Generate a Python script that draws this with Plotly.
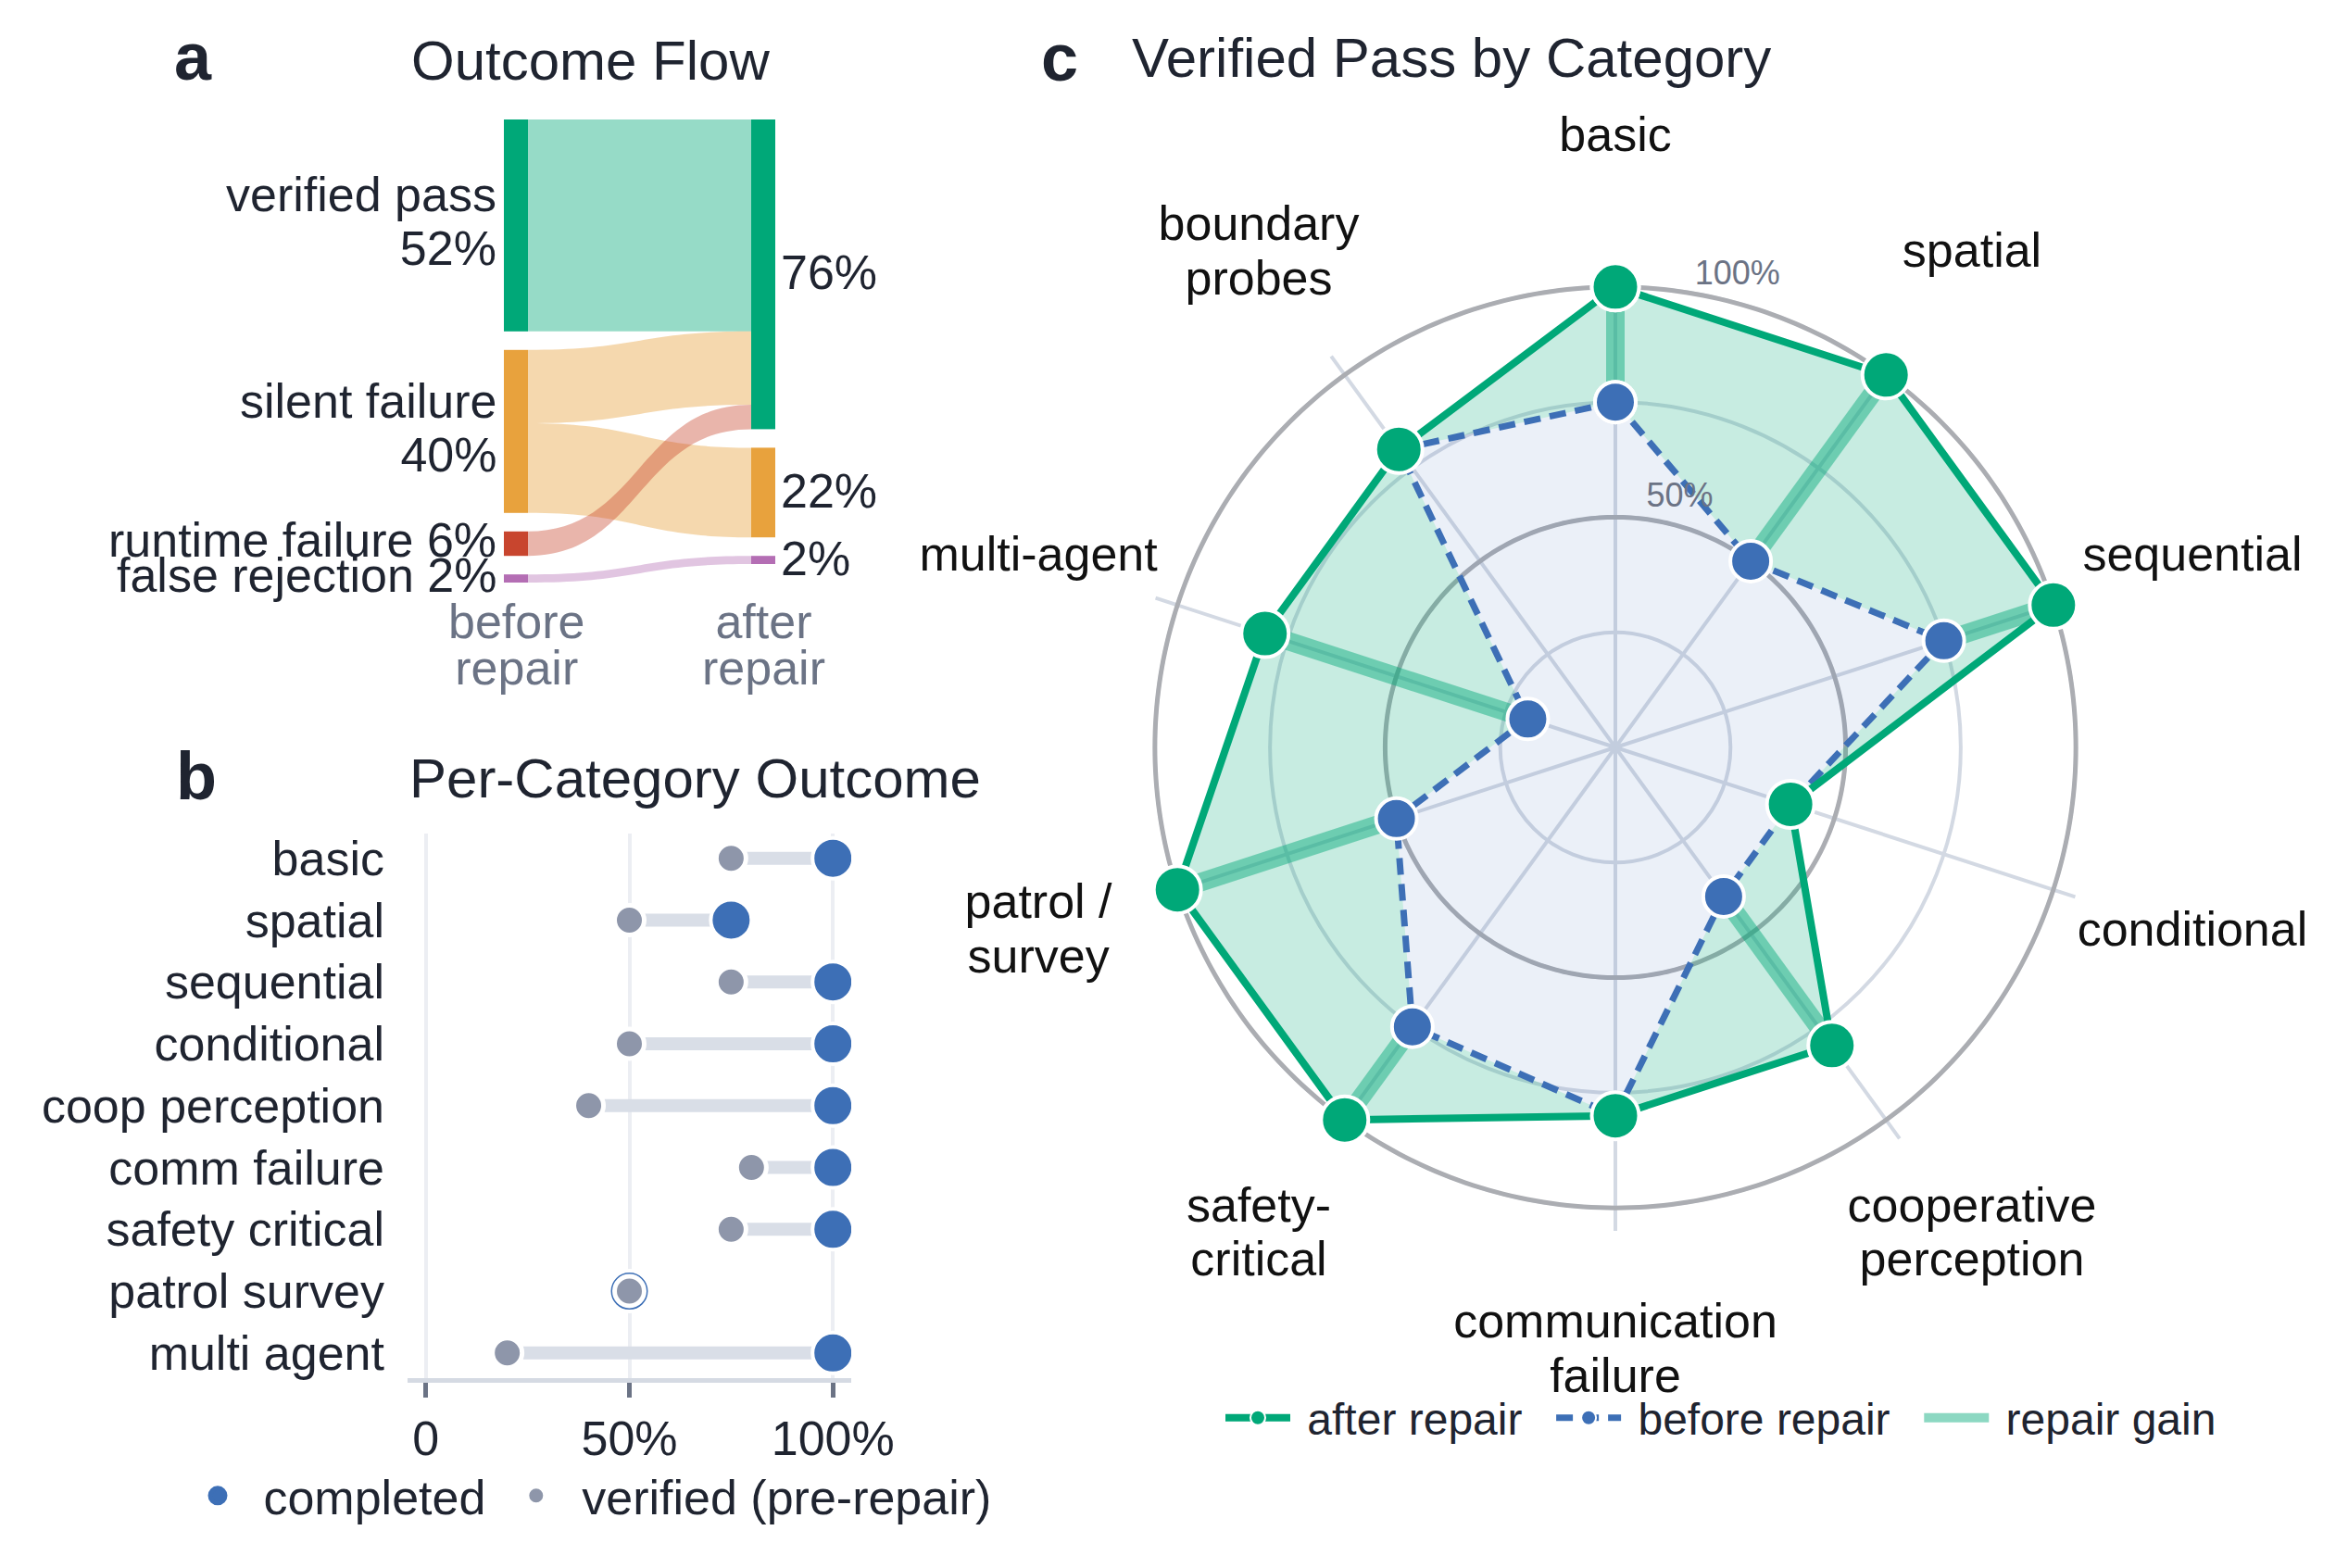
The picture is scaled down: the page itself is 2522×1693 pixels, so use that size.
import numpy as np
import plotly.graph_objects as go

W, H = 2522, 1693
BODY = 8                      # page margin the html adds round the figure
FW, FH = W - 2 * BODY, H - 2 * BODY
FONT = "Liberation Sans, Arial, Helvetica, sans-serif"
INK = "#1f2430"
MUTED = "#6b7385"
GREEN = "#00a878"
ORANGE = "#e8a23d"
RED = "#c8452e"
PURPLE = "#b46eb4"
BLUE = "#3d6fb6"
SLATE = "#8e96aa"
NB = "\u00a0"


def px(x):
    return (x - BODY) / FW


def py(y):
    return 1 - (y - BODY) / FH


def big(txt, size):
    # keep glyphs at `size` while the line pitch follows the smaller base font
    return "<br>".join(f"<span style='font-size:{size}px'>{t}</span>" for t in txt.split("<br>"))


# ---------------- data ----------------
# a: outcome flow (percent of tasks)
flow_before_names = ["verified pass", "silent failure", "runtime failure", "false rejection"]
flow_before_pct = [52, 40, 6, 2]
flow_after_names = ["verified pass", "silent failure", "false rejection"]
flow_after_pct = [76, 22, 2]
flow_src = [0, 1, 1, 2, 3]          # index into before nodes
flow_dst = [0, 0, 1, 0, 2]          # index into after nodes
flow_val = [52, 18, 22, 6, 2]

# b: per-category outcome
cat_b = ["basic", "spatial", "sequential", "conditional", "coop perception",
         "comm failure", "safety critical", "patrol survey", "multi agent"]
verified_b = [75, 50, 75, 50, 40, 80, 75, 50, 20]
completed_b = [100, 75, 100, 100, 100, 100, 100, 50, 100]

# c: verified pass by category
cat_c = ["basic", "spatial", "sequential", "conditional", "cooperative<br>perception",
         "communication<br>failure", "safety-<br>critical", "patrol /<br>survey",
         "multi-agent", "boundary<br>probes"]
before_c = [75, 50, 75, 40, 40, 80, 75, 50, 20, 80]
after_c = [100, 100, 100, 40, 80, 80, 100, 100, 80, 80]
radial_ticks = [50, 100]

fig = go.Figure()

# ---------------- a: sankey ----------------
SK_X0, SK_X1, SK_TOP, SK_BOT = 544, 837, 129, 629
sk_w, sk_h = SK_X1 - SK_X0, SK_BOT - SK_TOP
pad, thick = 20, 26
ky = min((sk_h - (len(c) - 1) * pad) / sum(c) for c in (flow_before_pct, flow_after_pct))


def centers(vals):
    out, y = [], 0.0
    for v in vals:
        out.append(y + v * ky / 2)
        y += v * ky + pad
    return out


cy_before = centers(flow_before_pct)
cy_after = centers(flow_after_pct)
before_cols = [GREEN, ORANGE, RED, PURPLE]
after_cols = [GREEN, ORANGE, PURPLE]
link_rgba = ["rgba(0,168,120,0.41)", "rgba(232,162,61,0.42)",
             "rgba(200,69,46,0.40)", "rgba(180,110,180,0.40)"]
nb = len(flow_before_pct)
xl = thick / 2 / sk_w

fig.add_trace(go.Sankey(
    domain=dict(x=[px(SK_X0), px(SK_X1)], y=[py(SK_BOT), py(SK_TOP)]),
    arrangement="fixed",
    node=dict(
        label=[""] * (nb + len(flow_after_pct)),
        color=before_cols + after_cols,
        line=dict(width=0),
        pad=pad, thickness=thick,
        x=[xl] * nb + [1 - xl] * len(flow_after_pct),
        y=[c / sk_h for c in cy_before + cy_after],
        hoverinfo="none",
    ),
    link=dict(
        source=flow_src,
        target=[nb + t for t in flow_dst],
        value=flow_val,
        color=[link_rgba[s] for s in flow_src],
        hoverinfo="none",
    ),
))

annotations = []
for name, v, c in zip(flow_before_names, flow_before_pct, cy_before):
    txt = f"{name}<br>{v}%" if v >= 10 else f"{name} {v}%"
    annotations.append(dict(x=px(SK_X0 - 6), y=py(SK_TOP + c - 4), text=big(txt, 52),
                            xanchor="right", yanchor="middle", align="right",
                            font=dict(size=44.6, color=INK)))
for v, c in zip(flow_after_pct, cy_after):
    annotations.append(dict(x=px(SK_X1 + 4), y=py(SK_TOP + c - 2), text=f"{v}%",
                            xanchor="left", yanchor="middle",
                            font=dict(size=52, color=INK)))
for txt, xc in [("before<br>repair", SK_X0 + thick / 2), ("after<br>repair", SK_X1 - thick / 2)]:
    annotations.append(dict(x=px(xc), y=py(696), text=big(txt, 52), xanchor="center",
                            yanchor="middle", font=dict(size=38.5, color=MUTED)))

# ---------------- b: dumbbell ----------------
cx, cy = [], []
for c, v0, v1 in zip(cat_b, verified_b, completed_b):
    cx += [v0, v1, None]
    cy += [c, c, None]
fig.add_trace(go.Scatter(x=cx, y=cy, mode="lines", line=dict(color="#d9dee7", width=14),
                         showlegend=False, hoverinfo="skip"))
fig.add_trace(go.Scatter(x=completed_b, y=cat_b, mode="markers", showlegend=False,
                         marker=dict(size=44, color=BLUE, line=dict(color="white", width=4))))
fig.add_trace(go.Scatter(x=verified_b, y=cat_b, mode="markers", showlegend=False,
                         marker=dict(size=32, color=SLATE, line=dict(color="white", width=5))))
# legend keys (legend symbols are size-capped, so style them separately)
fig.add_trace(go.Scatter(x=[None], y=[None], mode="markers", name=f"{NB}completed{NB}",
                         marker=dict(size=16, color=BLUE, line=dict(color=BLUE, width=5)),
                         legend="legend"))
fig.add_trace(go.Scatter(x=[None], y=[None], mode="markers", name=f"{NB}verified (pre-repair)",
                         marker=dict(size=12, color=SLATE, line=dict(color=SLATE, width=3)),
                         legend="legend"))

# ---------------- c: radar ----------------
n = len(cat_c)
ang = [i * 360 / n for i in range(n)]
ring = np.linspace(0, 360, 361)
for rv in radial_ticks:
    fig.add_trace(go.Scatterpolar(r=[rv] * len(ring), theta=ring, mode="lines",
                                  line=dict(color="#abadb2", width=5),
                                  showlegend=False, hoverinfo="skip"))
fig.add_trace(go.Scatterpolar(r=before_c + before_c[:1], theta=ang + ang[:1], mode="lines",
                              line=dict(width=0), fill="toself",
                              fillcolor="rgba(61,111,182,0.10)",
                              showlegend=False, hoverinfo="skip"))
fig.add_trace(go.Scatterpolar(r=after_c + after_c[:1], theta=ang + ang[:1], mode="lines",
                              line=dict(width=0), fill="tonext",
                              fillcolor="rgba(0,168,120,0.22)",
                              showlegend=False, hoverinfo="skip"))
gr, gt = [], []
for a, b0, b1 in zip(ang, before_c, after_c):
    if b1 > b0:
        gr += [b0, b1, None]
        gt += [a, a, None]
GAIN = "rgba(0,168,120,0.45)"
fig.add_trace(go.Scatterpolar(r=gr, theta=gt, mode="lines", showlegend=False,
                              line=dict(color=GAIN, width=20), hoverinfo="skip"))
fig.add_trace(go.Scatterpolar(r=before_c + before_c[:1], theta=ang + ang[:1],
                              mode="lines+markers", showlegend=False,
                              line=dict(color=BLUE, width=7, dash="18px,10px"),
                              marker=dict(size=44, color=BLUE, line=dict(color="white", width=4))))
fig.add_trace(go.Scatterpolar(r=after_c + after_c[:1], theta=ang + ang[:1],
                              mode="lines+markers", showlegend=False,
                              line=dict(color=GREEN, width=8),
                              marker=dict(size=51, color=GREEN, line=dict(color="white", width=4))))
for name, line, marker, rank in [
    ("after repair", dict(color=GREEN, width=8), dict(size=16, color=GREEN, line=dict(color="white", width=2)), 1),
    ("before repair", dict(color=BLUE, width=7, dash="18px,10px"), dict(size=16, color=BLUE, line=dict(color="white", width=2)), 2),
    ("repair gain", dict(color=GAIN, width=20), None, 3),
]:
    fig.add_trace(go.Scatterpolar(r=[None], theta=[None], name=f"{NB}{name}{NB}{NB}",
                                  mode="lines+markers" if marker else "lines",
                                  line=line, marker=marker, legend="legend2", legendrank=rank))

# labels live on a larger, invisible polar frame sharing the same centre
C_X, C_Y = 1744, 807                   # radar centre, picture px
R_AX = 522                             # radius of the radar frame (r = 105)
R100 = R_AX / 1.05
R_TXT = 720                            # radius of the label frame
fig.add_trace(go.Scatterpolar(r=[655 / R_TXT] * n, theta=ang, mode="text",
                              text=[big(t, 52) for t in cat_c],
                              textfont=dict(size=45, color="#111111"),
                              cliponaxis=False, showlegend=False, hoverinfo="skip",
                              subplot="polar2"))
fig.add_trace(go.Scatterpolar(r=[(R100 * v / 100 + 29) / R_TXT for v in radial_ticks],
                              theta=[14.5] * len(radial_ticks), mode="text",
                              text=[f"{v}%" for v in radial_ticks],
                              textfont=dict(size=36, color=MUTED),
                              cliponaxis=False, showlegend=False, hoverinfo="skip",
                              subplot="polar2"))

# ---------------- titles ----------------
for txt, x, y, size, bold in [
    ("a", 186, 61, 72, True), ("Outcome Flow", 442, 66, 60, False),
    ("b", 188, 838, 72, True), ("Per-Category Outcome", 440, 840, 60, False),
    ("c", 1122, 62, 72, True), ("Verified Pass by Category", 1220, 63, 60, False),
]:
    annotations.append(dict(x=px(x), y=py(y), text=f"<b>{txt}</b>" if bold else txt,
                            xanchor="left", yanchor="middle",
                            font=dict(size=size, color=INK)))
for a in annotations:
    a.update(xref="paper", yref="paper", showarrow=False)

hidden = dict(visible=False, showgrid=False, showline=False, showticklabels=False, ticks="")
fig.update_layout(
    width=FW, height=FH, margin=dict(l=0, r=0, t=0, b=0, autoexpand=False),
    paper_bgcolor="white", plot_bgcolor="white",
    font=dict(family=FONT, size=52, color=INK),
    annotations=annotations,
    xaxis=dict(domain=[px(440), px(919)], range=[-4.5, 104.5],
               tickvals=[0, 50, 100], ticktext=["0", "50%", "100%"],
               showgrid=True, gridcolor="#eceef3", gridwidth=4, zeroline=False,
               showline=True, linecolor="#d5dae3", linewidth=5,
               ticks="outside", ticklen=16, tickwidth=5, tickcolor=MUTED,
               tickfont=dict(size=52, color=INK)),
    yaxis=dict(domain=[py(1487.5), py(900)], type="category",
               categoryarray=cat_b, range=[8.4, -0.4], showgrid=False,
               showline=False, zeroline=False, ticks="", ticklabelstandoff=24,
               tickfont=dict(size=52, color=INK)),
    polar=dict(
        domain=dict(x=[px(C_X - R_AX), px(C_X + R_AX)], y=[py(C_Y + R_AX), py(C_Y - R_AX)]),
        bgcolor="white",
        radialaxis=dict(range=[0, 105], tickvals=[25, 50, 75, 100], showticklabels=False,
                        showline=False, ticks="", gridcolor="#d3d9e3", gridwidth=4),
        angularaxis=dict(direction="clockwise", rotation=90, tickvals=ang,
                         showticklabels=False, ticks="", showline=False,
                         gridcolor="#d3d9e3", gridwidth=4),
    ),
    polar2=dict(
        domain=dict(x=[px(C_X - R_TXT), px(C_X + R_TXT)], y=[py(C_Y + R_TXT), py(C_Y - R_TXT)]),
        bgcolor="rgba(0,0,0,0)",
        radialaxis=dict(range=[0, 1], **hidden),
        angularaxis=dict(direction="clockwise", rotation=90, **hidden),
    ),
    legend=dict(orientation="h", x=px(200), y=py(1615), xanchor="left",
                yanchor="middle", font=dict(size=52, color=INK), itemwidth=60,
                bgcolor="rgba(0,0,0,0)"),
    legend2=dict(orientation="h", x=px(1318), y=py(1531), xanchor="left",
                 yanchor="middle", font=dict(size=48, color=INK), itemwidth=70,
                 bgcolor="rgba(0,0,0,0)"),
)

fig.write_html("out.html")
